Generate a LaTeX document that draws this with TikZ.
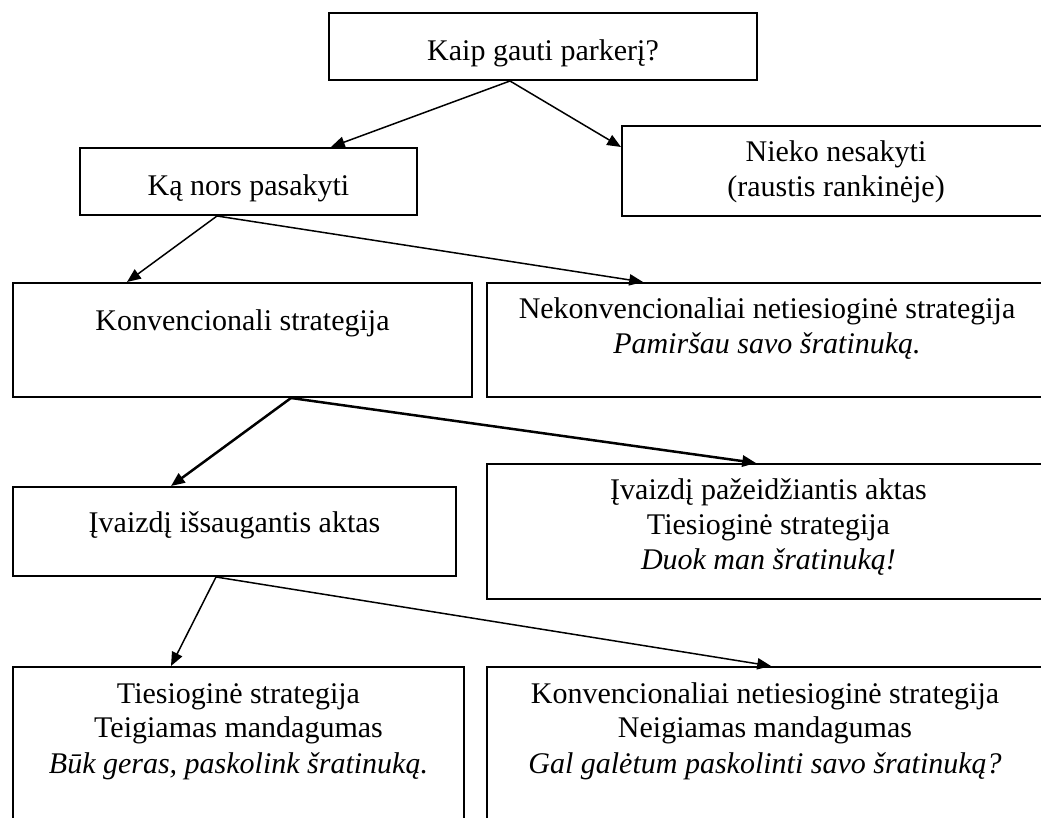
\documentclass[tikz,border=0pt]{standalone}
\usepackage{fontspec}
\setmainfont{Liberation Serif}
\usetikzlibrary{arrows.meta}
\tikzset{
  box/.style={draw, line width=0.8pt, anchor=north west, inner sep=0pt},
  lbl/.style={align=center, anchor=base, inner sep=0pt, font=\fontsize{12}{14}\selectfont},
  arr/.style={-{Triangle[length=5.5pt,width=4.5pt]}, line width=0.6pt},
  arrb/.style={arr, line width=1pt},
}
\begin{document}
\begin{tikzpicture}[x=0.4pt,y=-0.4pt]
	\useasboundingbox (0,0) rectangle (1041,818);
	\clip (0,0) rectangle (1041,818);
	% boxes
	\node[box, minimum width=171.2pt, minimum height=26.8pt] (kaip) at (328,12) {};
	\node[box, minimum width=134.8pt, minimum height=26.8pt] (sakyti) at (79,147) {};
	\node[box, minimum width=171.2pt, minimum height=36pt] (nesakyti) at (621,125) {};
	\node[box, minimum width=183.6pt, minimum height=45.6pt] (konv) at (12,282) {};
	\node[box, minimum width=224pt, minimum height=45.6pt] (nekonv) at (486,282) {};
	\node[box, minimum width=177.2pt, minimum height=35.6pt] (issaug) at (12,486) {};
	\node[box, minimum width=225.2pt, minimum height=54pt] (pazeid) at (486,463) {};
	\node[box, minimum width=180.4pt, minimum height=80pt] (teig) at (12,666) {};
	\node[box, minimum width=222.4pt, minimum height=80pt] (neig) at (486,666) {};
	% texts (base = last line)
	\node[lbl] (kaipT) at ([yshift=-19.6pt]kaip.north) {Kaip gauti parkerį?};
	\node[lbl] (sakytiT) at ([yshift=-19.4pt]sakyti.north) {Ką nors pasakyti};
	\node[lbl] (nesakytiT) at ([yshift=-28.8pt]nesakyti.north) {Nieko nesakyti\\(raustis rankinėje)};
	\node[lbl] (konvT) at ([yshift=-19.6pt]konv.north) {Konvencionali strategija};
	\node[lbl] (nekonvT) at ([yshift=-28.8pt]nekonv.north) {Nekonvencionaliai netiesioginė strategija\\\textit{Pamiršau savo šratinuką.}};
	\node[lbl] (issaugT) at ([yshift=-18.8pt]issaug.north) {Įvaizdį išsaugantis aktas};
	\node[lbl] (pazeidT) at ([yshift=-42.8pt]pazeid.north) {Įvaizdį pažeidžiantis aktas\\Tiesioginė strategija\\\textit{Duok man šratinuką!}};
	\node[lbl] (teigT) at ([yshift=-42.8pt]teig.north) {Tiesioginė strategija\\Teigiamas mandagumas\\\textit{Būk geras, paskolink šratinuką.}};
	\node[lbl] (neigT) at ([yshift=-42.8pt]neig.north) {Konvencionaliai netiesioginė strategija\\Neigiamas mandagumas\\\textit{Gal galėtum paskolinti savo šratinuką?}};
	% arrows
	\draw[arr] ([xshift=-13.2pt]kaip.south) -- ([xshift=33pt]sakyti.north);
	\draw[arr] ([xshift=-13.2pt]kaip.south) -- ([yshift=-8.8pt]nesakyti.north west);
	\draw[arr] ([xshift=-12.6pt]sakyti.south) -- ([xshift=-46.2pt]konv.north);
	\draw[arr] ([xshift=-12.6pt]sakyti.south) -- ([xshift=-49.6pt]nekonv.north);
	\draw[arrb] ([xshift=19.4pt]konv.south) -- ([xshift=-25.4pt]issaug.north);
	\draw[arrb] ([xshift=19.4pt]konv.south) -- ([xshift=-5pt]pazeid.north);
	\draw[arr] ([xshift=-7.4pt]issaug.south) -- ([xshift=-27pt]teig.north);
	\draw[arr] ([xshift=-7.4pt]issaug.south) -- ([xshift=2.4pt]neig.north);
\end{tikzpicture}
\end{document}
